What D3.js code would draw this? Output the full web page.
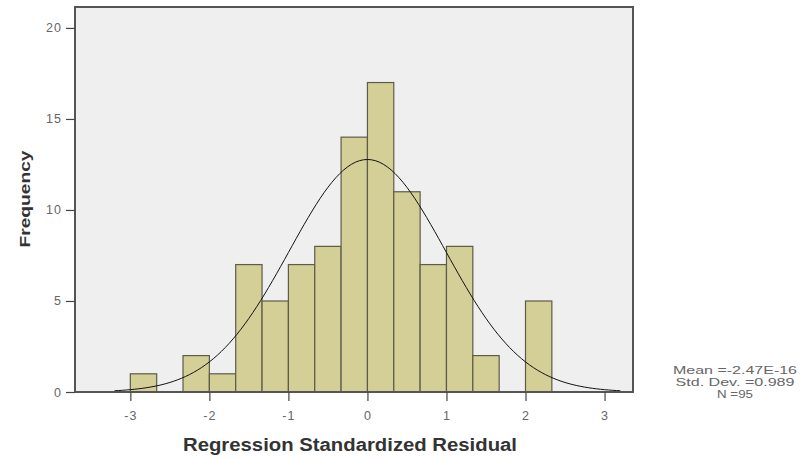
<!DOCTYPE html>
<html>
<head>
<meta charset="utf-8">
<script src="https://cdn.jsdelivr.net/npm/d3@7"></script>
<style>
  body { margin: 0; background: #fff; }
  svg text { font-family: "Liberation Sans", Arial, sans-serif; }
</style>
</head>
<body>
<div id="chart"></div>
<script>
// histogram bins (lower edges, width 1/3) and counts
var binStart = -3;
var binWidth = 1 / 3;
var counts = [1, 0, 2, 1, 7, 5, 7, 8, 14, 17, 11, 7, 8, 2, 0, 5];
var xTicks = [-3, -2, -1, 0, 1, 2, 3];
var yTicks = [0, 5, 10, 15, 20];
var stats = ["Mean =-2.47E-16", "Std. Dev. =0.989", "N =95"];
var statWidths = [124, 119, 36];
var mean = 0, sd = 0.989, n = 95;

var width = 805, height = 459;
var svg = d3.select("#chart").append("svg").attr("width", width).attr("height", height);

var x = d3.scaleLinear().domain([-3.7, 3.36]).range([75, 633]);
var y = d3.scaleLinear().domain([0, 21.15]).range([392, 7]);

// plot background
svg.append("rect")
  .attr("x", x.range()[0]).attr("y", y.range()[1])
  .attr("width", x.range()[1] - x.range()[0])
  .attr("height", y.range()[0] - y.range()[1])
  .attr("fill", "#efefef");

// bars
var bins = counts.map(function(c, i) { return { x0: binStart + i * binWidth, x1: binStart + (i + 1) * binWidth, v: c }; });
svg.selectAll("rect.bar").data(bins.filter(function(d) { return d.v > 0; }))
  .enter().append("rect").attr("class", "bar")
  .attr("x", function(d) { return x(d.x0); })
  .attr("y", function(d) { return y(d.v); })
  .attr("width", function(d) { return x(d.x1) - x(d.x0); })
  .attr("height", function(d) { return y(0) - y(d.v); })
  .attr("fill", "#d4cf97")
  .attr("stroke", "#5c5c48")
  .attr("stroke-width", 1.2);

// normal curve
var pts = d3.range(-3.2, 3.2001, 0.05).map(function(v) {
  var z = (v - mean) / sd;
  return [v, n * binWidth / (sd * Math.sqrt(2 * Math.PI)) * Math.exp(-z * z / 2)];
});
svg.append("path").datum(pts)
  .attr("d", d3.line().x(function(d) { return x(d[0]); }).y(function(d) { return y(d[1]); }))
  .attr("fill", "none").attr("stroke", "#111").attr("stroke-width", 1);

// frame
svg.append("rect")
  .attr("x", x.range()[0]).attr("y", y.range()[1])
  .attr("width", x.range()[1] - x.range()[0])
  .attr("height", y.range()[0] - y.range()[1])
  .attr("fill", "none").attr("stroke", "#555").attr("stroke-width", 2);

// axes
var yAxis = svg.append("g").attr("transform", "translate(75,0)")
  .call(d3.axisLeft(y).tickValues(yTicks).tickSize(9).tickPadding(4));
var xAxis = svg.append("g").attr("transform", "translate(0,392)")
  .call(d3.axisBottom(x).tickValues(xTicks).tickSize(9).tickPadding(10).tickFormat(d3.format("d")));
[yAxis, xAxis].forEach(function(g) {
  g.select(".domain").remove();
  g.selectAll("line").attr("stroke", "#444").attr("stroke-width", 1.2);
  g.selectAll("text").attr("fill", "#666").style("font-size", "12.5px").style("letter-spacing", "1px")
    .style("font-family", "Liberation Sans, Arial, sans-serif");
});
xAxis.selectAll("text").text(function(d) { return String(d).replace("\u2212", "-"); });

// axis titles
svg.append("text")
  .attr("transform", "translate(30,199) rotate(-90)")
  .attr("text-anchor", "middle")
  .attr("textLength", 97).attr("lengthAdjust", "spacingAndGlyphs")
  .style("font-size", "14px").style("font-weight", "bold").attr("fill", "#333")
  .text("Frequency");
svg.append("text")
  .attr("x", 350).attr("y", 451)
  .attr("text-anchor", "middle")
  .attr("textLength", 334).attr("lengthAdjust", "spacingAndGlyphs")
  .style("font-size", "18px").style("font-weight", "bold").attr("fill", "#333")
  .text("Regression Standardized Residual");

// stats box
svg.append("g").selectAll("text").data(stats).enter().append("text")
  .attr("x", 735).attr("y", function(d, i) { return 374 + i * 12; })
  .attr("text-anchor", "middle")
  .attr("textLength", function(d, i) { return statWidths[i]; }).attr("lengthAdjust", "spacingAndGlyphs")
  .style("font-size", "11px").attr("fill", "#666")
  .text(function(d) { return d; });
</script>
</body>
</html>
